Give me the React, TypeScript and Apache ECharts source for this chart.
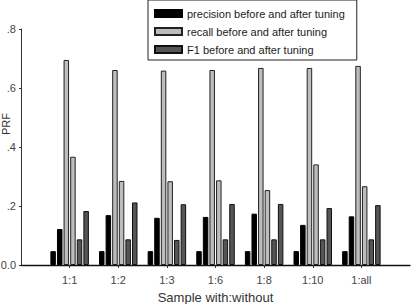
import React, { useEffect, useRef } from "react";
import * as echarts from "echarts";

// Sampling ratios (with:without)
const categories = ["1:1", "1:2", "1:3", "1:6", "1:8", "1:10", "1:all"];

// Scores before and after tuning
const precisionBefore = [0.047, 0.047, 0.047, 0.047, 0.047, 0.047, 0.047];
const precisionAfter = [0.122, 0.169, 0.16, 0.163, 0.174, 0.136, 0.165];
const recallBefore = [0.695, 0.661, 0.659, 0.661, 0.668, 0.668, 0.675];
const recallAfter = [0.367, 0.285, 0.284, 0.287, 0.254, 0.341, 0.267];
const f1Before = [0.087, 0.087, 0.085, 0.087, 0.087, 0.087, 0.087];
const f1After = [0.183, 0.212, 0.206, 0.207, 0.207, 0.193, 0.203];

const yTicks = [0, 0.2, 0.4, 0.6, 0.8];

const legendNames = [
  "precision before and after tuning",
  "recall before and after tuning",
  "F1 before and after tuning",
];

const FONT = "Liberation Sans, Arial, sans-serif";

// Empty slots at both ends so the groups sit on the ticks between them
const axisCats = ["", ...categories, ""];
const pad = (arr: number[]) => [null, ...arr, null];

const styles = [
  { color: "#000000", borderColor: "#000000", borderWidth: 1 },
  { color: "#bdbdbd", borderColor: "#222222", borderWidth: 1 },
  { color: "#555555", borderColor: "#111111", borderWidth: 1 },
];

export default function App() {
  const ref = useRef<HTMLDivElement>(null);

  useEffect(() => {
    if (!ref.current) return;
    const chart = echarts.init(ref.current, null, { renderer: "svg" });

    const seriesDefs = [
      { name: legendNames[0], data: precisionBefore, s: 0 },
      { name: legendNames[0], data: precisionAfter, s: 0 },
      { name: legendNames[1], data: recallBefore, s: 1 },
      { name: legendNames[1], data: recallAfter, s: 1 },
      { name: legendNames[2], data: f1Before, s: 2 },
      { name: legendNames[2], data: f1After, s: 2 },
    ];

    chart.setOption({
      animation: false,
      backgroundColor: "#ffffff",
      textStyle: { fontFamily: FONT },
      grid: {
        left: 21,
        right: 5,
        top: 29,
        bottom: 39,
        containLabel: false,
        outerBoundsMode: "none",
      },
      legend: {
        data: legendNames,
        orient: "vertical",
        left: 148,
        top: 0,
        padding: [8, 12, 5, 6],
        itemWidth: 27,
        itemHeight: 7,
        itemGap: 7,
        icon: "rect",
        borderColor: "#222222",
        borderWidth: 1,
        textStyle: { fontSize: 11, color: "#222222", fontFamily: FONT, lineHeight: 11 },
        selectedMode: false,
      },
      graphic: [
        {
          type: "text",
          x: 6,
          y: 124,
          rotation: Math.PI / 2,
          style: {
            text: "PRF",
            font: `11px ${FONT}`,
            fill: "#333333",
            align: "center",
            verticalAlign: "middle",
          },
        },
      ],
      xAxis: {
        type: "category",
        data: axisCats,
        boundaryGap: false,
        name: "Sample with:without",
        nameLocation: "middle",
        nameGap: 26,
        nameTextStyle: { fontSize: 13, color: "#333333", fontFamily: FONT },
        axisLine: { lineStyle: { color: "#111111", width: 1.3 } },
        axisTick: {
          show: true,
          length: 3,
          interval: (i: number) => i > 0 && i < axisCats.length - 1,
          lineStyle: { color: "#333333" },
        },
        axisLabel: { interval: 0, fontSize: 11, color: "#444444", margin: 9, fontFamily: FONT },
        splitLine: { show: false },
      },
      yAxis: {
        type: "value",
        min: 0,
        max: 0.8,
        interval: 0.2,
        axisLine: { show: true, lineStyle: { color: "#333333", width: 1 } },
        axisTick: { show: true, length: 2, lineStyle: { color: "#333333" } },
        axisLabel: {
          fontSize: 11,
          color: "#444444",
          margin: 5,
          fontFamily: FONT,
          formatter: (v: number) => (v === 0 ? "0.0" : v.toFixed(1).replace(/^0/, "")),
          customValues: yTicks,
        },
        splitLine: { show: false },
      },
      series: seriesDefs.map((d) => ({
        type: "bar",
        name: d.name,
        data: pad(d.data),
        barWidth: 5.5,
        barGap: "20%",
        itemStyle: styles[d.s],
        emphasis: { disabled: true },
      })),
    });

    return () => chart.dispose();
  }, []);

  return (
    <div
      ref={ref}
      style={{ position: "fixed", left: 0, top: 0, width: 415, height: 304 }}
    />
  );
}
